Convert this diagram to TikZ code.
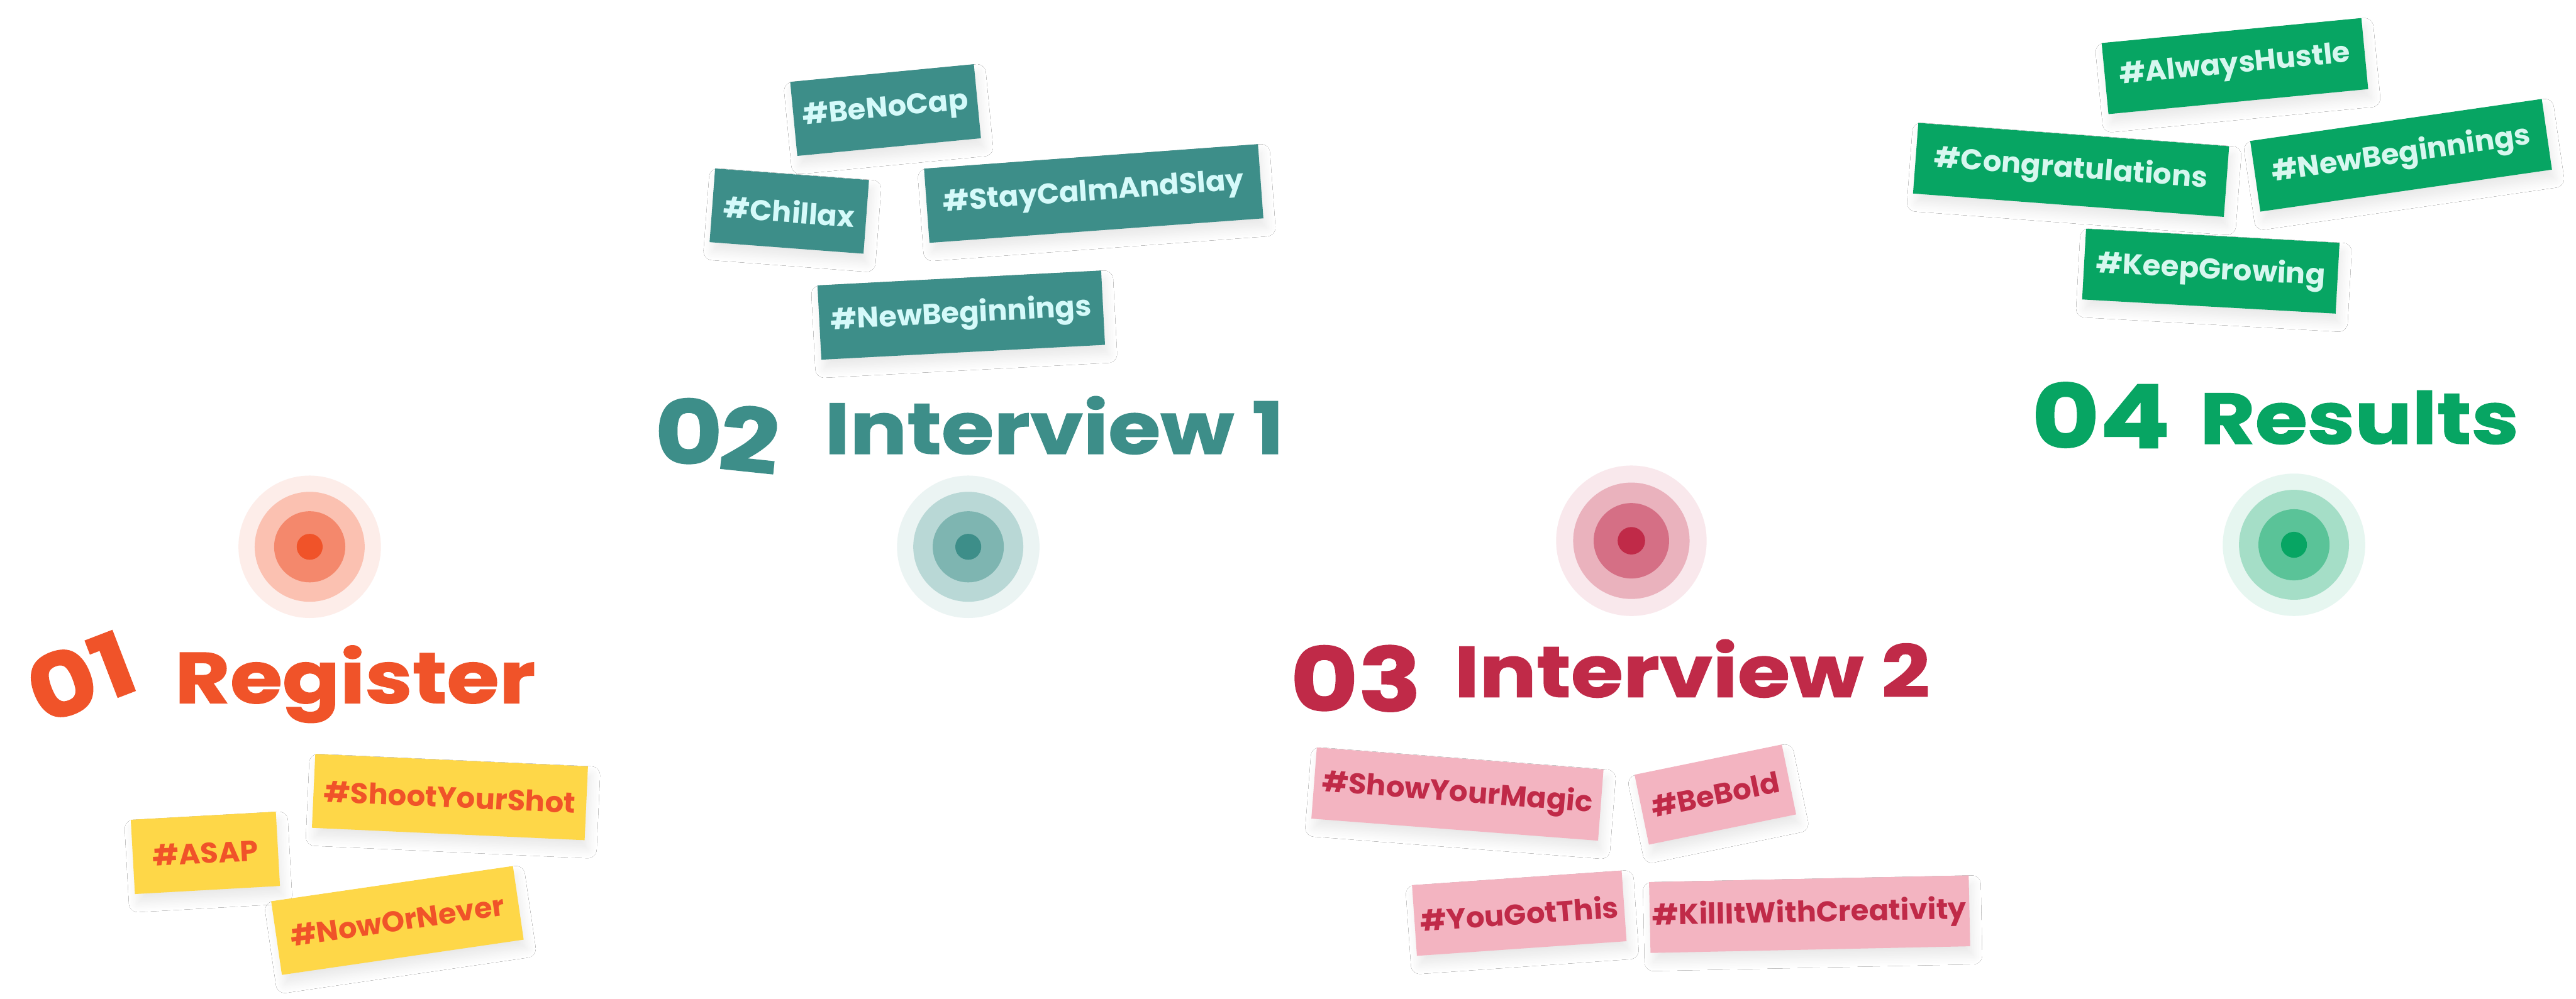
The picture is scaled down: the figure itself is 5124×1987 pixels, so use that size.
\documentclass[tikz,border=0pt]{standalone}
\usepackage{fontspec}
\setmainfont{Poppins}
\newfontfamily\titlefont{Poppins}[FakeStretch=1.18, BoldFeatures={FakeBold=1.2}]
\newfontfamily\tagfont{Poppins}[FakeStretch=1.02]
\usetikzlibrary{shadows.blur}
\definecolor{cOrange}{HTML}{F05329}
\definecolor{cYellow}{HTML}{FED748}
\definecolor{cTeal}{HTML}{3D8E89}
\definecolor{cTealTxt}{HTML}{D5FAFA}
\definecolor{cCrimson}{HTML}{C02A48}
\definecolor{cPink}{HTML}{F3B4C1}
\definecolor{cGreen}{HTML}{07A563}
\definecolor{cGreenTxt}{HTML}{D7F7EF}
\definecolor{oA}{HTML}{FDEDE9}\definecolor{oB}{HTML}{FBC1B1}\definecolor{oC}{HTML}{F4886C}
\definecolor{tA}{HTML}{EBF4F3}\definecolor{tB}{HTML}{B9D8D6}\definecolor{tC}{HTML}{7EB5B1}
\definecolor{rA}{HTML}{F9E8EC}\definecolor{rB}{HTML}{EAB2BD}\definecolor{rC}{HTML}{D56F85}
\definecolor{gA}{HTML}{E6F6F0}\definecolor{gB}{HTML}{A5DEC7}\definecolor{gC}{HTML}{5AC398}
\begin{document}
\begin{tikzpicture}[x=0.1mm,y=-0.1mm,
  tag/.style={rectangle, inner sep=0pt, minimum height=14.5mm,
    font=\tagfont\bfseries\fontsize{16.2}{18}\selectfont,
    blur shadow={shadow xshift=0.6mm, shadow yshift=-1.8mm, shadow blur radius=1.8mm, shadow blur steps=24, shadow opacity=9}},
  ytag/.style={tag, fill=cYellow, text=cOrange},
  ttag/.style={tag, fill=cTeal, text=cTealTxt},
  ptag/.style={tag, fill=cPink, text=cCrimson},
  gtag/.style={tag, fill=cGreen, text=cGreenTxt},
  ring/.style={circle, inner sep=0pt, draw=none},
  ttl/.style={inner sep=0pt, font=\titlefont\bfseries\fontsize{40.7}{48}\selectfont},
  dgt/.style={inner sep=0pt, font=\titlefont\bfseries\fontsize{50}{60}\selectfont}
]
\useasboundingbox (0,0) rectangle (5124,1987);
\fill[white] (0,0) rectangle (5124,1987);

% ---------- targets ----------
\node[ring, fill=oA, minimum size=28.34mm] (c1a) at (616,1088) {};
\node[ring, fill=oB, minimum size=21.88mm] (c1b) at (616,1088) {};
\node[ring, fill=oC, minimum size=14.16mm] (c1c) at (616,1088) {};
\node[ring, fill=cOrange, minimum size=5.16mm] (c1d) at (616,1088) {};

\node[ring, fill=tA, minimum size=28.34mm] (c2a) at (1926,1088) {};
\node[ring, fill=tB, minimum size=21.88mm] (c2b) at (1926,1088) {};
\node[ring, fill=tC, minimum size=14.16mm] (c2c) at (1926,1088) {};
\node[ring, fill=cTeal, minimum size=5.16mm] (c2d) at (1926,1088) {};

\node[ring, fill=rA, minimum size=29.94mm] (c3a) at (3245,1076) {};
\node[ring, fill=rB, minimum size=23.16mm] (c3b) at (3245,1076) {};
\node[ring, fill=rC, minimum size=15.0mm] (c3c) at (3245,1076) {};
\node[ring, fill=cCrimson, minimum size=5.46mm] (c3d) at (3245,1076) {};

\node[ring, fill=gA, minimum size=28.34mm] (c4a) at (4563,1084) {};
\node[ring, fill=gB, minimum size=21.88mm] (c4b) at (4563,1084) {};
\node[ring, fill=gC, minimum size=14.16mm] (c4c) at (4563,1084) {};
\node[ring, fill=cGreen, minimum size=5.16mm] (c4d) at (4563,1084) {};

% ---------- titles ----------
\node[dgt, text=cOrange, rotate=21] (n01) at (160,1346) {01};
\node[ttl, text=cOrange, anchor=base west] (w01) at (347,1399) {Register};

\node[dgt, text=cTeal] (n02a) at (1370,858) {0};
\node[dgt, text=cTeal, rotate=-6] (n02b) at (1491,874) {2};
\node[ttl, text=cTeal, anchor=base west] (w02) at (1640,903) {Interview 1};

\node[dgt, text=cCrimson] (n03) at (2697,1350) {03};
\node[ttl, text=cCrimson, anchor=base west] (w03) at (2892,1387) {Interview 2};

\node[dgt, text=cGreen] (n04) at (4179,826) {04};
\node[ttl, text=cGreen, anchor=base west] (w04) at (4375,883) {Results};

% ---------- tags: 01 ----------
\node[ytag, minimum width=28.9mm, minimum height=14.8mm, rotate=3.2] (asap) at (408.5,1697) {\#ASAP};
\node[ytag, minimum width=54.3mm, minimum height=14.7mm, rotate=-2.6] (shoot) at (895,1586) {\#ShootYourShot};
\node[ytag, minimum width=48.6mm, minimum height=14.8mm, rotate=8.3] (now) at (790.5,1831.5) {\#NowOrNever};

% ---------- tags: 02 ----------
\node[ttag, minimum width=36.7mm, minimum height=14.8mm, rotate=5.5] (benocap) at (1761.5,219) {\#BeNoCap};
\node[ttag, minimum width=30.7mm, minimum height=14.7mm, rotate=-4.3] (chillax) at (1570,420) {\#Chillax};
\node[ttag, minimum width=66.6mm, minimum height=14.8mm, rotate=4.2] (slay) at (2175.5,385) {\#StayCalmAndSlay};
\node[ttag, minimum width=56.5mm, minimum height=14.8mm, rotate=3.0] (newb1) at (1912,627) {\#NewBeginnings};

% ---------- tags: 03 ----------
\node[ptag, minimum width=57.2mm, minimum height=14.2mm, rotate=-4.4] (magic) at (2899,1580) {\#ShowYourMagic};
\node[ptag, minimum width=29.9mm, minimum height=14.2mm, rotate=11.6] (bold) at (3412,1581) {\#BeBold};
\node[ptag, minimum width=41.8mm, minimum height=14.1mm, rotate=4.0] (gotthis) at (3022,1817) {\#YouGotThis};
\node[ptag, minimum width=63.6mm, minimum height=14.1mm, rotate=1.2] (killit) at (3599.5,1819) {\#KillItWithCreativity};

% ---------- tags: 04 ----------
\node[gtag, minimum width=51.9mm, minimum height=14.2mm, rotate=5.5] (hustle) at (4445.5,131.5) {\#AlwaysHustle};
\node[gtag, minimum width=62.0mm, minimum height=14.1mm, rotate=-4.3] (congrats) at (4119.6,338) {\#Congratulations};
\node[gtag, minimum width=58.6mm, minimum height=14.2mm, rotate=8.2] (newb2) at (4776,309) {\#NewBeginnings};
\node[gtag, minimum width=50.5mm, minimum height=14.1mm, rotate=-3.2] (growing) at (4397.6,539.5) {\#KeepGrowing};
\end{tikzpicture}
\end{document}
